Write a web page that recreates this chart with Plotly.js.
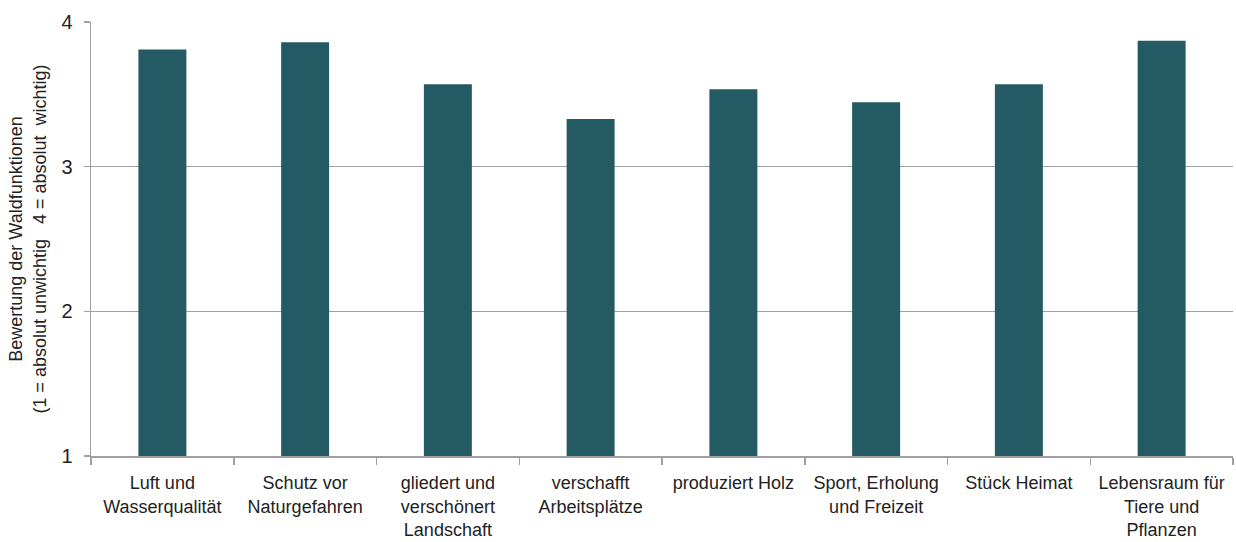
<!DOCTYPE html>
<html>
<head>
<meta charset="utf-8">
<script src="https://cdn.plot.ly/plotly-3.0.1.min.js"></script>
<style>html,body{margin:0;padding:0;background:#fff;}#chart{width:1236px;height:542px;}</style>
</head>
<body>
<div id="chart"></div>
<script>
const categories = [
  "Luft und<br>Wasserqualität",
  "Schutz vor<br>Naturgefahren",
  "gliedert und<br>verschönert<br>Landschaft",
  "verschafft<br>Arbeitsplätze",
  "produziert Holz",
  "Sport, Erholung<br>und Freizeit",
  "Stück Heimat",
  "Lebensraum für<br>Tiere und<br>Pflanzen"
];
const values = [3.81, 3.86, 3.57, 3.33, 3.535, 3.445, 3.57, 3.87];
const yTickValues = [1, 2, 3, 4];
const yTitle = "Bewertung der Waldfunktionen<br>(1 = absolut unwichtig\u00a0\u00a0\u00a04 = absolut\u00a0\u00a0wichtig)";

const FONT = "'Liberation Sans Narrow', 'Arial Narrow', 'Liberation Sans', Arial, sans-serif";
const GRAY = "#a0a0a0";

const trace = {
  type: "bar",
  x: categories,
  y: values,
  width: 0.336,
  marker: {color: "#235a64", line: {width: 0}},
  hoverinfo: "x+y"
};

const layout = {
  width: 1236,
  height: 542,
  margin: {l: 91, r: 3, t: 22, b: 86, pad: 0},
  paper_bgcolor: "#fff",
  plot_bgcolor: "#fff",
  font: {family: FONT, size: 18, color: "#222"},
  showlegend: false,
  xaxis: {
    type: "category",
    showgrid: false,
    showline: true,
    linecolor: GRAY,
    linewidth: 1.5,
    ticks: "outside",
    tickson: "boundaries",
    ticklen: 7,
    tickcolor: GRAY,
    tickwidth: 1.5,
    ticklabelstandoff: 10,
    tickfont: {family: FONT, size: 18, color: "#222"},
    automargin: false
  },
  yaxis: {
    range: [1, 4],
    tickvals: yTickValues,
    ticktext: yTickValues.map(String),
    showgrid: true,
    gridcolor: GRAY,
    gridwidth: 1.5,
    showline: true,
    linecolor: GRAY,
    linewidth: 1.5,
    ticks: "outside",
    ticklen: 6,
    tickcolor: GRAY,
    tickwidth: 1.5,
    ticklabelstandoff: 7,
    tickfont: {family: FONT, size: 20, color: "#222"},
    zeroline: false,
    automargin: false,
    title: {text: yTitle, font: {family: FONT, size: 18, color: "#222"}, standoff: 10}
  }
};

Plotly.newPlot("chart", [trace], layout, {displayModeBar: false, staticPlot: true});
</script>
</body>
</html>
